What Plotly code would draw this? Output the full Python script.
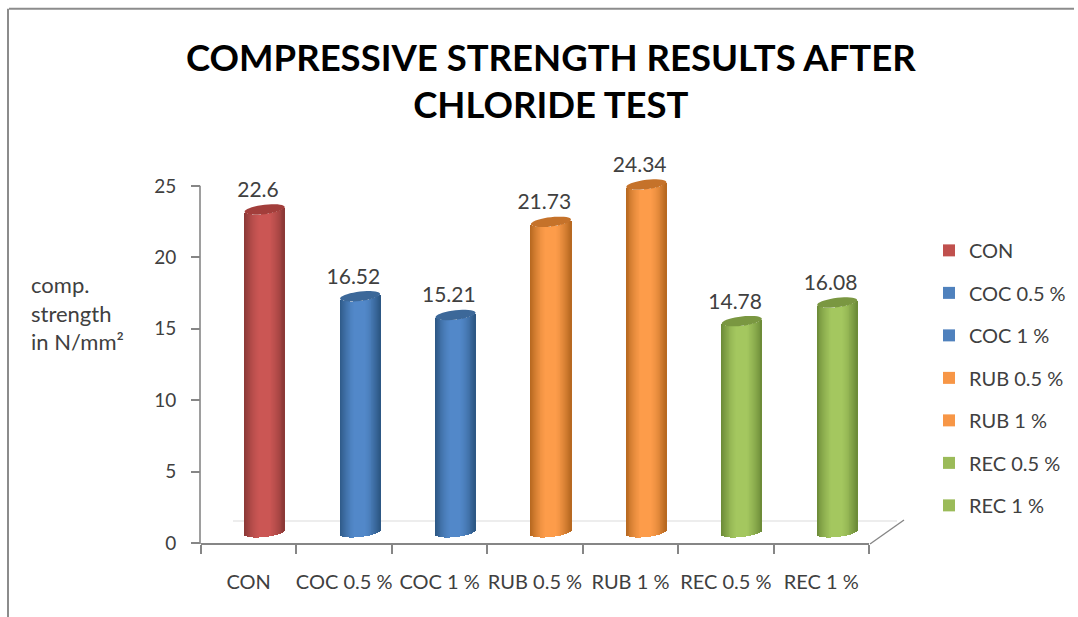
import math
import plotly.graph_objects as go

W, H = 1078, 617
L, R, B = 201, 869, 543
UNIT = 14.28
TOPV = 28

categories = ["CON", "COC 0.5 %", "COC 1 %", "RUB 0.5 %", "RUB 1 %", "REC 0.5 %", "REC 1 %"]
values = [22.6, 16.52, 15.21, 21.73, 24.34, 14.78, 16.08]
labels = ["22.6", "16.52", "15.21", "21.73", "24.34", "14.78", "16.08"]
legend_colors = ["#c0504d", "#4f81bd", "#4f81bd", "#f79646", "#f79646", "#9bbb59", "#9bbb59"]
edge_colors = ["#8a3836", "#2c5683", "#2c5683", "#b5671f", "#b5671f", "#6b8a37", "#6b8a37"]
mid_colors = ["#cb5654", "#5288c9", "#5288c9", "#fd9c4a", "#fd9c4a", "#a4c75f", "#a4c75f"]
cap_colors = ["#a23e3b", "#3c6899", "#3c6899", "#c5722a", "#c5722a", "#7a9741", "#7a9741"]
tick_values = [0, 5, 10, 15, 20, 25]

centers = [i + 0.5 for i in range(len(categories))]
SHIFT, BW = 0.167, 0.42
LIFT, HH, TILT = 0.75, 0.33, 0.16
N = 44


def rgb(h):
    return [int(h[i:i + 2], 16) for i in (1, 3, 5)]


def mix(a, b, s):
    ca, cb = rgb(a), rgb(b)
    return "rgb(%d,%d,%d)" % tuple(round(p + (q - p) * s) for p, q in zip(ca, cb))


def px(x):
    return (x - L) / (W - L)


def py(y):
    return (B - y) / (UNIT * TOPV)


fig = go.Figure()
sw = BW / N
for k in range(N):
    t = -1 + (2 * k + 1) / N
    lower = LIFT + TILT * t - HH * math.sqrt(1 - t * t)
    shade = min(1, math.sqrt(1 - t * t) * 1.03) ** 2.2
    fig.add_trace(go.Bar(
        x=centers,
        y=values,
        base=[lower] * len(values),
        width=sw * 1.25,
        offset=SHIFT + (t - 1 / N) * BW / 2,
        marker=dict(color=[mix(e, m, shade) for e, m in zip(edge_colors, mid_colors)], line=dict(width=0)),
        showlegend=False,
        hoverinfo="skip",
    ))

shapes = []
for c, v, col in zip(centers, values, cap_colors):
    pts = []
    for a in range(0, 360, 10):
        r = math.radians(a)
        t = math.cos(r)
        pts.append((c + SHIFT + t * BW / 2, v + LIFT + TILT * t + HH * math.sin(r)))
    path = "M " + " L ".join("%.4f,%.4f" % p for p in pts) + " Z"
    shapes.append(dict(type="path", path=path, xref="x", yref="y", layer="above",
                       fillcolor=col, line=dict(width=0)))

GREY = "#868686"
shapes += [
    dict(type="line", xref="paper", yref="paper", x0=px(L - 1), x1=px(L - 1), y0=py(186), y1=py(544),
         line=dict(color=GREY, width=1.6)),
    dict(type="line", xref="paper", yref="paper", x0=px(233), x1=px(897), y0=py(521), y1=py(521),
         line=dict(color="#dcdcdc", width=1.2), layer="below"),
    dict(type="line", xref="paper", yref="paper", x0=px(870), x1=px(904), y0=py(544), y1=py(520),
         line=dict(color=GREY, width=1.4)),
    dict(type="line", xref="paper", yref="paper", x0=px(9), x1=px(1074), y0=py(9), y1=py(9),
         line=dict(color="#8c8c8c", width=2)),
    dict(type="line", xref="paper", yref="paper", x0=px(8), x1=px(8), y0=py(9), y1=py(617),
         line=dict(color="#8c8c8c", width=2)),
]

fig.add_trace(go.Scatter(
    x=[c + SHIFT - 0.07 for c in centers],
    y=[v + LIFT + 1.25 for v in values],
    mode="text",
    text=labels,
    textposition="middle center",
    textfont=dict(family="Lato", size=21, color="#404040"),
    cliponaxis=False,
    showlegend=False,
    hoverinfo="skip",
))

for i, (name, col) in enumerate(zip(categories, legend_colors)):
    fig.add_trace(go.Scatter(
        x=[None], y=[None], mode="markers", name=name, legendgroup=name,
        marker=dict(symbol="square", size=12, color=col),
    ))

annotations = [
    dict(text="COMPRESSIVE STRENGTH RESULTS AFTER<br>CHLORIDE TEST", xref="paper", yref="paper",
         x=px(551), y=py(81), xanchor="center", yanchor="middle", align="center", showarrow=False,
         font=dict(family="Lato", size=36.5, color="#000000", weight="bold")),
    dict(text="comp.<br>strength<br>in N/mm²", xref="paper", yref="paper",
         x=px(29), y=py(313), xanchor="left", yanchor="middle", align="left", showarrow=False,
         font=dict(family="Lato", size=22, color="#404040")),
]

fig.update_layout(
    width=W, height=H,
    margin=dict(l=L, r=0, t=B - UNIT * TOPV, b=H - B, pad=0),
    paper_bgcolor="white", plot_bgcolor="white",
    barmode="overlay", bargap=0,
    showlegend=True,
    legend=dict(x=px(929), y=py(231), xanchor="left", yanchor="top", tracegroupgap=13.5,
                bgcolor="rgba(0,0,0,0)", font=dict(family="Lato", size=20, color="#404040"),
                itemclick=False, itemdoubleclick=False),
    shapes=shapes, annotations=annotations,
    xaxis=dict(domain=[0, px(R)], range=[0, 7], tickmode="array", tickvals=centers, ticktext=categories,
               ticks="", ticklen=0, showgrid=False, zeroline=False, showline=True,
               linecolor=GREY, linewidth=2, ticklabelstandoff=20,
               tickfont=dict(family="Lato", size=20, color="#404040"),
               minor=dict(tickmode="array", tickvals=list(range(8)), ticks="outside", ticklen=9,
                          tickcolor=GREY, tickwidth=2, showgrid=False)),
    yaxis=dict(range=[0, TOPV], tickmode="array", tickvals=tick_values, ticks="outside", ticklen=9,
               tickcolor=GREY, tickwidth=1.6, showgrid=False, zeroline=False, showline=False,
               ticklabelstandoff=11, tickfont=dict(family="Lato", size=19, color="#404040")),
)
fig.write_html("out.html", config=dict(displayModeBar=False),
               post_script="document.body.style.margin='0';document.body.style.overflow='hidden';")
